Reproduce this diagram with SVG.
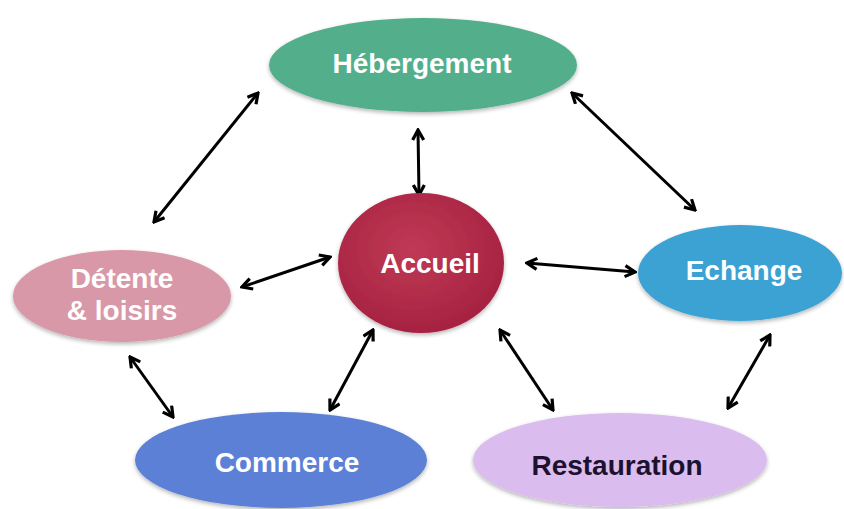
<svg xmlns="http://www.w3.org/2000/svg" width="844" height="509" viewBox="0 0 844 509">
<defs>
<style>
.lbl{font-family:"Liberation Sans",Arial,sans-serif;font-weight:bold;font-size:28px;text-anchor:middle;fill:#ffffff}
.dark{fill:#1c1230}
.con{stroke:#000;stroke-width:3;fill:none;marker-start:url(#ah);marker-end:url(#ah)}
</style>
<marker id="ah" viewBox="0 0 14 14" refX="12" refY="7" markerWidth="14" markerHeight="14" markerUnits="userSpaceOnUse" orient="auto-start-reverse">
<path d="M2,1.5 L12,7 L2,12.5" fill="none" stroke="#000" stroke-width="3.2" stroke-linejoin="miter"/>
</marker>
<radialGradient id="gAcc" cx="0.45" cy="0.4" r="0.65">
<stop offset="0" stop-color="#c03a56"/>
<stop offset="1" stop-color="#a4203f"/>
</radialGradient>
<filter id="sh" x="-10%" y="-10%" width="120%" height="130%">
<feGaussianBlur in="SourceAlpha" stdDeviation="2"/>
<feOffset dy="2" result="b"/>
<feComponentTransfer><feFuncA type="linear" slope="0.3"/></feComponentTransfer>
<feMerge><feMergeNode/><feMergeNode in="SourceGraphic"/></feMerge>
</filter>
</defs>
<rect width="844" height="509" fill="#ffffff"/>
<g id="connectors">
<line class="con" x1="258" y1="93" x2="154" y2="222"/>
<line class="con" x1="418" y1="130" x2="419" y2="195"/>
<line class="con" x1="572" y1="93" x2="695" y2="210"/>
<line class="con" x1="242" y1="287" x2="330" y2="257"/>
<line class="con" x1="527" y1="263" x2="635" y2="272"/>
<line class="con" x1="130" y1="357" x2="173" y2="417"/>
<line class="con" x1="373" y1="330" x2="330" y2="410"/>
<line class="con" x1="500" y1="330" x2="553" y2="410"/>
<line class="con" x1="770" y1="335" x2="728" y2="408"/>
</g>
<g id="hebergement">
<ellipse cx="423" cy="65" rx="154" ry="47" fill="#52ae8b" filter="url(#sh)"/>
<text class="lbl" x="422" y="73">Hébergement</text>
</g>
<g id="accueil">
<ellipse cx="421" cy="263" rx="83" ry="70" fill="url(#gAcc)" filter="url(#sh)"/>
<text class="lbl" x="430" y="273">Accueil</text>
</g>
<g id="detente">
<ellipse cx="122" cy="296" rx="109" ry="46" fill="#d898a7" filter="url(#sh)"/>
<text class="lbl" x="122" y="288">Détente</text>
<text class="lbl" x="122" y="320">&amp; loisirs</text>
</g>
<g id="echange">
<ellipse cx="740" cy="273" rx="102" ry="48" fill="#3ba2d3" filter="url(#sh)"/>
<text class="lbl" x="744" y="280">Echange</text>
</g>
<g id="commerce">
<ellipse cx="281" cy="460" rx="146" ry="48" fill="#5b80d5" filter="url(#sh)"/>
<text class="lbl" x="287" y="472">Commerce</text>
</g>
<g id="restauration">
<ellipse cx="620" cy="460" rx="147" ry="47" fill="#dbbcee" filter="url(#sh)"/>
<text class="lbl dark" x="617" y="475">Restauration</text>
</g>
</svg>
